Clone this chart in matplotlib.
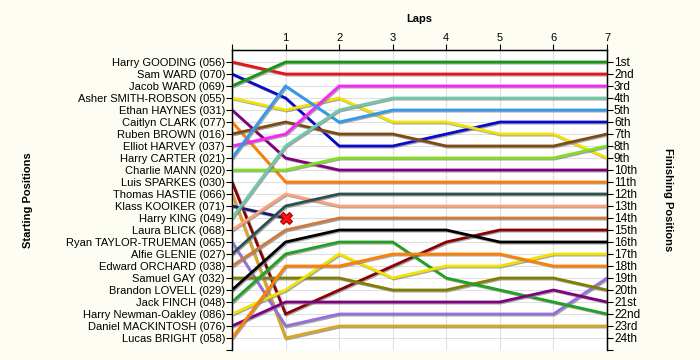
import matplotlib
matplotlib.use("Agg")
import matplotlib.pyplot as plt
import matplotlib.patheffects as pe

plt.rcParams['font.family'] = ['Liberation Sans', 'DejaVu Sans']

# riders in starting order
riders = [
    "Harry GOODING (056)", "Sam WARD (070)", "Jacob WARD (069)",
    "Asher SMITH-ROBSON (055)", "Ethan HAYNES (031)", "Caitlyn CLARK (077)",
    "Ruben BROWN (016)", "Elliot HARVEY (037)", "Harry CARTER (021)",
    "Charlie MANN (020)", "Luis SPARKES (030)", "Thomas HASTIE (066)",
    "Klass KOOIKER (071)", "Harry KING (049)", "Laura BLICK (068)",
    "Ryan TAYLOR-TRUEMAN (065)", "Alfie GLENIE (027)", "Edward ORCHARD (038)",
    "Samuel GAY (032)", "Brandon LOVELL (029)", "Jack FINCH (048)",
    "Harry Newman-Oakley (086)", "Daniel MACKINTOSH (076)", "Lucas BRIGHT (058)",
]

# position at end of each lap (lap 0 = start)
positions = [
    [1, 2, 2, 2, 2, 2, 2, 2],
    [2, 4, 8, 8, 7, 6, 6, 6],
    [3, 1, 1, 1, 1, 1, 1, 1],
    [4, 5, 4, 6, 6, 7, 7, 9],
    [5, 9, 10, 10, 10, 10, 10, 10],
    [6, 11, 11, 11, 11, 11, 11, 11],
    [7, 6, 7, 7, 8, 8, 8, 7],
    [8, 7, 3, 3, 3, 3, 3, 3],
    [9, 3, 6, 5, 5, 5, 5, 5],
    [10, 10, 9, 9, 9, 9, 9, 8],
    [11, 22, 20, 18, 16, 15, 15, 15],
    [12, 24, 23, 23, 23, 23, 23, 23],
    [13, 14],
    [14, 8, 5, 4, 4, 4, 4, 4],
    [15, 12, 13, 13, 13, 13, 13, 13],
    [16, 23, 22, 22, 22, 22, 22, 19],
    [17, 13, 12, 12, 12, 12, 12, 12],
    [18, 15, 14, 14, 14, 14, 14, 14],
    [19, 19, 19, 20, 20, 19, 19, 20],
    [20, 16, 15, 15, 15, 16, 16, 16],
    [21, 17, 16, 16, 19, 20, 21, 22],
    [22, 20, 17, 19, 18, 18, 17, 17],
    [23, 21, 21, 21, 21, 21, 20, 21],
    [24, 18, 18, 17, 17, 17, 18, 18],
]

colors = [
    "#ee1111", "#0a0acc", "#119911", "#f2e200", "#800080", "#ff8000",
    "#7e4a14", "#ff22ff", "#3399ee", "#80e020", "#8b0000", "#daa520",
    "#191970", "#6fc8a8", "#ffa07a", "#9370db", "#2f4f4f", "#cd7a3f",
    "#808000", "#000000", "#22a022", "#f2e200", "#800080", "#ff8000",
]

# rider who retired, and where
crashed = "Klass KOOIKER (071)"

laps = [0, 1, 2, 3, 4, 5, 6, 7]
finish_labels = ["1st", "2nd", "3rd", "4th", "5th", "6th", "7th", "8th", "9th",
                 "10th", "11th", "12th", "13th", "14th", "15th", "16th", "17th",
                 "18th", "19th", "20th", "21st", "22nd", "23rd", "24th"]

fig = plt.figure(figsize=(7, 3.6), dpi=100, facecolor="#fdfdf3")
ax = fig.add_axes([232/700, 10/360, 375/700, 300/360])
ax.set_facecolor("white")

shadow = [pe.SimpleLineShadow(offset=(0.8, -0.8), shadow_color="gray", alpha=0.7), pe.Normal()]
for name, pos, c in zip(riders, positions, colors):
    ax.plot(laps[:len(pos)], pos, color=c, lw=2.0, path_effects=shadow,
            solid_joinstyle="miter", zorder=3)
    if name == crashed:
        ax.plot(len(pos) - 1, pos[-1], marker="X", ms=9, color="#ff1010",
                mec="#aa0000", mew=0.8, zorder=5)

ax.set_xlim(0, 7)
ax.set_ylim(25, 0)

ax.xaxis.tick_top()
ax.set_xticks(laps)
ax.set_xticklabels([""] + [str(l) for l in laps[1:]])
ax.xaxis.set_label_position("top")
ax.set_xlabel("Laps", fontsize=8, fontweight="bold", labelpad=8)

ax.set_yticks(list(range(1, 26)))
ax.set_yticklabels(riders + [""])
ax.tick_params(axis="both", labelsize=8, length=4, direction="out", pad=1)

ax.grid(True, color="#e0e0e0", lw=0.8, zorder=0)
ax.set_axisbelow(True)
ax.spines["bottom"].set_visible(False)
for s in ["left", "top", "right"]:
    ax.spines[s].set_linewidth(1.0)

ax2 = ax.twinx()
ax2.set_ylim(25, 0)
ax2.set_yticks(list(range(1, 26)))
ax2.set_yticklabels(finish_labels + [""])
ax2.tick_params(axis="y", labelsize=8.5, length=4, direction="out", pad=1)
ax2.spines["bottom"].set_visible(False)

fig.text(28/700, 1 - 200/360, "Starting Positions", rotation=90, fontsize=8,
         fontweight="bold", ha="center", va="center")
fig.text(668/700, 1 - 200/360, "Finishing Positions", rotation=-90, fontsize=8,
         fontweight="bold", ha="center", va="center")

fig.savefig("out.png", dpi=100, facecolor=fig.get_facecolor())
